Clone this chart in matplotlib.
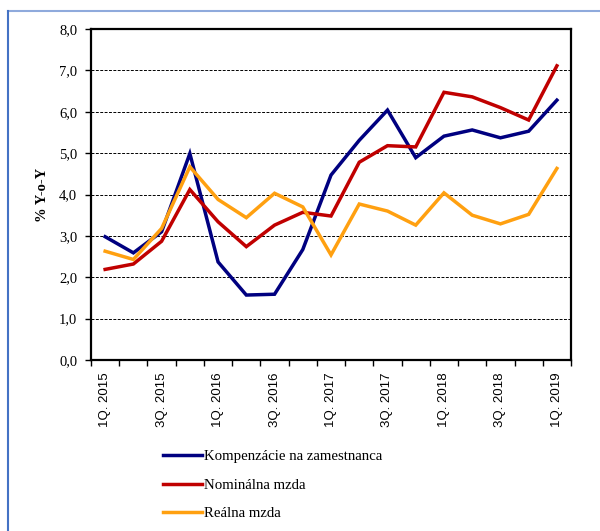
import matplotlib
matplotlib.use("Agg")
import matplotlib.pyplot as plt
from matplotlib.lines import Line2D

# stvrtroky 1Q.2015 .. 1Q.2019
quarters = ["1Q. 2015", "2Q. 2015", "3Q. 2015", "4Q. 2015",
            "1Q. 2016", "2Q. 2016", "3Q. 2016", "4Q. 2016",
            "1Q. 2017", "2Q. 2017", "3Q. 2017", "4Q. 2017",
            "1Q. 2018", "2Q. 2018", "3Q. 2018", "4Q. 2018",
            "1Q. 2019"]
kompenzacie = [2.98, 2.59, 3.10, 4.99, 2.37, 1.57, 1.59, 2.67,
               4.47, 5.31, 6.04, 4.89, 5.41, 5.56, 5.37, 5.53, 6.28]
nominalna = [2.19, 2.32, 2.87, 4.12, 3.34, 2.74, 3.26, 3.57,
             3.48, 4.78, 5.18, 5.15, 6.47, 6.36, 6.10, 5.80, 7.11]
realna = [2.63, 2.43, 3.18, 4.67, 3.88, 3.44, 4.03, 3.70,
          2.54, 3.77, 3.60, 3.26, 4.04, 3.50, 3.29, 3.52, 4.63]
series_names = ["Kompenzácie na zamestnanca", "Nominálna mzda", "Reálna mzda"]
y_ticks = [0, 1, 2, 3, 4, 5, 6, 7, 8]

COLORS = ["#000080", "#c00000", "#ffa010"]
SERIF = "Liberation Serif"
SANS = "Liberation Sans"
LW = 2.5

fig = plt.figure(figsize=(6.0, 5.31), dpi=100)
ax = fig.add_axes([0.1517, 0.322, 0.80, 0.6234])

x = list(range(len(quarters)))
for vals, c in zip([kompenzacie, nominalna, realna], COLORS):
    ax.plot(x, vals, color=c, lw=LW, solid_joinstyle="miter")

ax.set_xlim(-0.5, len(quarters) - 0.5)
ax.set_ylim(0, 8)

# mriezka
for v in y_ticks[1:-1]:
    ax.axhline(v, color="black", lw=0.7, ls=(0, (3, 1.5)), zorder=0)

ax.set_yticks(y_ticks)
ax.set_yticklabels([f"{v:.1f}".replace(".", ",") for v in y_ticks],
                   fontfamily=SERIF, fontsize=10.5)
ax.tick_params(axis="y", direction="out", length=4, width=1, pad=6)

ax.set_xticks([i - 0.5 for i in range(len(quarters) + 1)])
ax.set_xticklabels([])
ax.tick_params(axis="x", which="major", direction="out", length=4, width=1)
ax.set_xticks(x[::2], minor=True)
ax.set_xticklabels(quarters[::2], minor=True, rotation=90,
                   fontfamily=SANS, fontsize=9.5)
ax.tick_params(axis="x", which="minor", length=0, pad=9)

for s in ax.spines.values():
    s.set_linewidth(1.6)

ax.set_ylabel("% Y-o-Y", fontfamily=SERIF, fontweight="bold", fontsize=10.5, labelpad=7)

handles = [Line2D([], [], color=c, lw=LW) for c in COLORS]
fig.legend(handles, series_names, loc="center left", bbox_to_anchor=(0.26, 0.0866),
           frameon=False, borderpad=0, handlelength=2.6, handletextpad=0.1,
           labelspacing=1.0, prop={"family": SERIF, "size": 10.7})

# ramik
fig.add_artist(Line2D([7.5 / 600, 1.0], [1 - 11 / 531, 1 - 11 / 531],
                      transform=fig.transFigure, color="#8faadc", lw=1.5))
fig.add_artist(Line2D([7.5 / 600, 7.5 / 600], [0, 1 - 11 / 531],
                      transform=fig.transFigure, color="#4472c4", lw=1.5))

fig.savefig("out.png", dpi=100, facecolor="white")
